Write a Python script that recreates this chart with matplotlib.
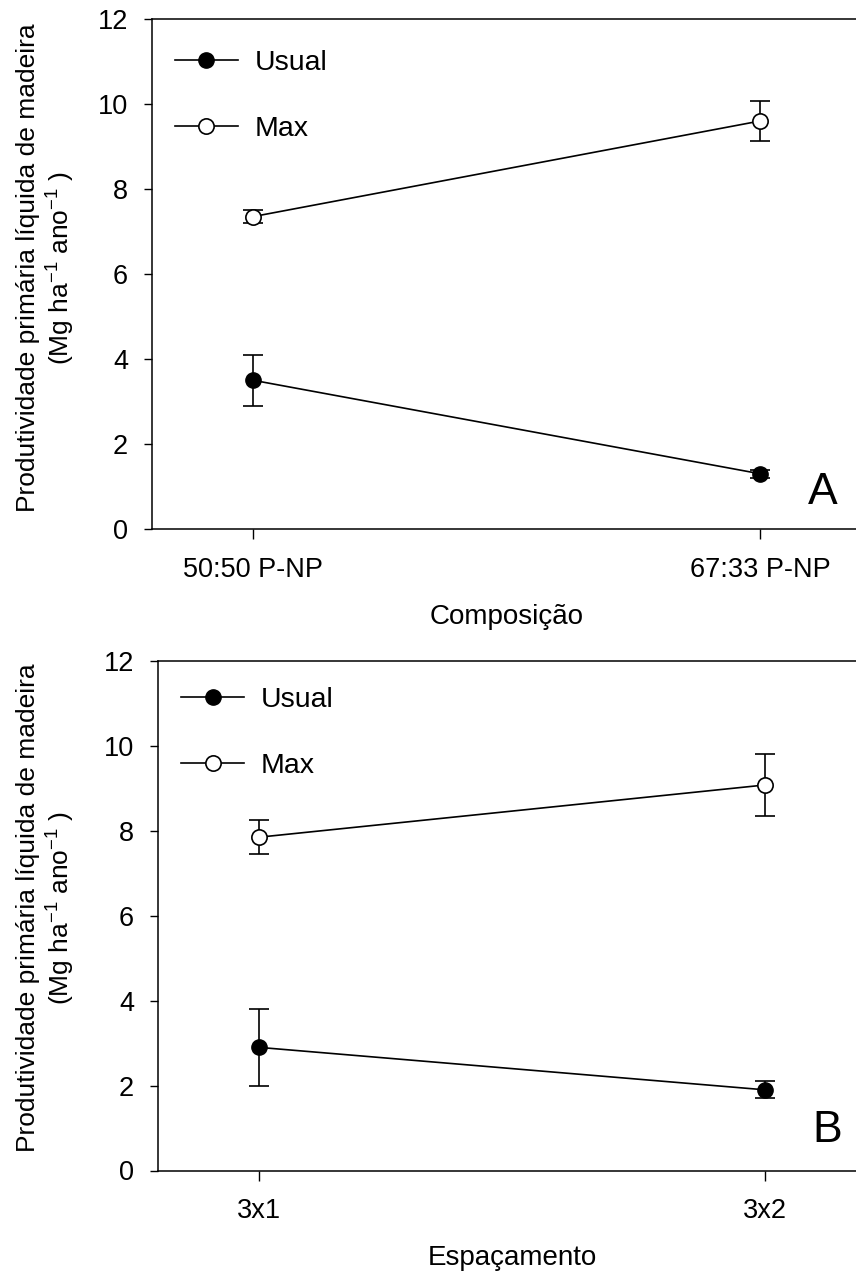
import matplotlib
matplotlib.use("Agg")
import matplotlib.pyplot as plt

plt.rcParams['font.family'] = ['Liberation Sans', 'DejaVu Sans']
plt.rcParams['mathtext.fontset'] = 'custom'
plt.rcParams['mathtext.rm'] = 'Liberation Sans'
plt.rcParams['mathtext.it'] = 'Liberation Sans'

# Panel A data
cats_a = ["50:50 P-NP", "67:33 P-NP"]
usual_a = [3.5, 1.3]
usual_a_err = [0.6, 0.1]
max_a = [7.35, 9.6]
max_a_err = [0.15, 0.46]

# Panel B data
cats_b = ["3x1", "3x2"]
usual_b = [2.9, 1.9]
usual_b_err = [0.9, 0.2]
max_b = [7.85, 9.08]
max_b_err = [0.4, 0.72]

yticks = [0, 2, 4, 6, 8, 10, 12]
ylabel_line1 = "Produtividade primária líquida de madeira"
ylabel_line2 = "(Mg ha$^{\\mathregular{-1}}$ ano$^{\\mathregular{-1}}$ )"

W, H = 856, 1274
fig = plt.figure(figsize=(W / 100, H / 100), dpi=100)

def make_axes(top_px, bottom_px, tick0_px, tick1_px):
    unit = tick1_px - tick0_px
    left = tick0_px - 0.2 * unit
    right = tick1_px + 0.2 * unit
    ax = fig.add_axes([left / W, 1 - bottom_px / H, (right - left) / W, (bottom_px - top_px) / H])
    return ax

def draw(ax, cats, usual, usual_err, mx, mx_err, xlabel, letter, letter_y, leg_y, label_yc):
    x = list(range(len(cats)))
    ax.errorbar(x, usual, yerr=usual_err, color='black', lw=1.2, marker='o', ms=11,
                mfc='black', mec='black', capsize=7.5, elinewidth=1.2, capthick=1.2, label='Usual', zorder=3)
    ax.errorbar(x, mx, yerr=mx_err, color='black', lw=1.2, marker='o', ms=11,
                mfc='white', mec='black', mew=1.2, capsize=7.5, elinewidth=1.2, capthick=1.2, label='Max', zorder=3)
    ax.set_xlim(-0.2, 1.2)
    ax.set_ylim(0, 12)
    ax.set_yticks(yticks)
    ax.set_xticks(x)
    ax.set_xticklabels(cats)
    ax.tick_params(direction='out', width=1, labelsize=19.5)
    ax.tick_params(axis='y', length=6, pad=11)
    ax.tick_params(axis='x', length=7, pad=13)
    ax.spines['right'].set_visible(False)
    for s in ['left', 'top', 'bottom']:
        ax.spines[s].set_linewidth(1.1)
    ax.set_xlabel(xlabel, fontsize=20, labelpad=15)
    fig.text(28 / W, 1 - label_yc / H, ylabel_line1, fontsize=19, rotation=90,
             ha='center', va='center', rotation_mode='anchor')
    fig.text(61 / W, 1 - label_yc / H, ylabel_line2, fontsize=19, rotation=90,
             ha='center', va='center', rotation_mode='anchor')
    handles, labels = ax.get_legend_handles_labels()
    hs = [h[0] for h in handles]
    ax.legend(hs, labels, loc='upper left', bbox_to_anchor=(-0.007, leg_y), frameon=False,
              fontsize=20.5, handlelength=2.2, handletextpad=0.6, labelspacing=1.4,
              borderaxespad=0.6)
    ax.text(0.945, letter_y, letter, transform=ax.transAxes, fontsize=32, ha='center', va='center')

ax1 = make_axes(19, 529, 253, 760)
draw(ax1, cats_a, usual_a, usual_a_err, max_a, max_a_err, "Composição", "A", 0.0725, 0.995, 268)
ax2 = make_axes(661, 1170.5, 259, 765)
draw(ax2, cats_b, usual_b, usual_b_err, max_b, max_b_err, "Espaçamento", "B", 0.078, 1.005, 908)

fig.savefig("out.png", dpi=100)
